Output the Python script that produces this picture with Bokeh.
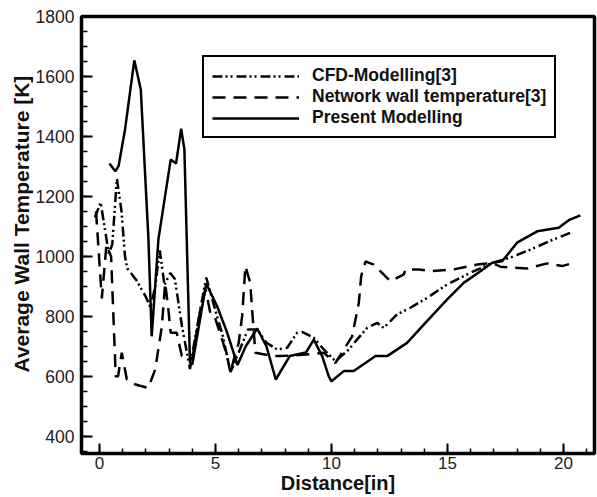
from bokeh.plotting import figure
from bokeh.models import Range1d, FixedTicker, Legend, LegendItem, Title
from bokeh.embed import file_html
from bokeh.resources import INLINE

# ---- data ----
present_x = [0.43, 0.68, 0.82, 1.1, 1.5, 1.78, 2.11, 2.25, 2.54, 2.76,
             3.07, 3.3, 3.52, 3.66, 3.9, 4.0, 4.6, 5.07, 5.5, 5.95,
             6.3, 6.8, 7.2, 7.6, 8.2, 8.9, 9.24, 9.6, 9.88, 10.0,
             10.53, 10.96, 11.9, 12.4, 13.26, 13.98, 14.99, 15.7, 16.42, 16.93,
             17.36, 18.0, 18.87, 19.8, 20.23, 20.73]
present_y = [1310, 1284, 1301, 1423, 1654, 1557, 1057, 734, 1057, 1168,
             1323, 1310, 1426, 1357, 647, 640, 910, 834, 747, 638,
             700, 760, 700, 590, 668, 680, 723, 668, 601, 584,
             618, 618, 668, 668, 712, 773, 857, 912, 951, 979,
             984, 1046, 1084, 1096, 1121, 1137]

cfd_x = [-0.2, 0.05, 0.4, 0.55, 0.75, 0.95, 1.1, 1.2, 1.6, 2.0,
         2.2, 2.4, 2.6, 2.8, 3.05, 3.25, 3.55, 3.9, 4.1, 4.6,
         5.07, 5.3, 5.65, 6.0, 6.4, 6.8, 7.2, 7.66, 8.09, 8.52,
         8.75, 9.24, 9.67, 10.17, 10.75, 11.1, 11.54, 11.97, 12.25, 12.83,
         13.4, 14.12, 14.99, 16.0, 16.93, 17.7, 18.58, 19.58, 20.37]
cfd_y = [1130, 1180, 1010, 1040, 1260, 1150, 1000, 960, 920, 865,
         830, 900, 1020, 905, 945, 925, 770, 625, 720, 930,
         800, 740, 615, 680, 757, 757, 712, 690, 696, 746,
         748, 729, 690, 651, 690, 723, 762, 779, 762, 807,
         829, 862, 907, 946, 979, 996, 1023, 1057, 1081]

net_x = [-0.15, 0.1, 0.3, 0.5, 0.7, 0.8, 0.96, 1.18, 1.5, 1.7,
         2.1, 2.4, 2.69, 2.83, 2.97, 3.07, 3.33, 3.55, 3.84, 4.0,
         4.35, 4.57, 4.78, 4.93, 5.29, 5.5, 5.65, 5.79, 6.0, 6.15,
         6.29, 6.5, 6.58, 6.72, 7.5, 7.8, 8.9, 9.67, 10.17, 10.89,
         11.18, 11.28, 11.47, 11.82, 12.33, 12.54, 13.12, 13.19, 13.76, 14.27,
         15.28, 16.28, 16.93, 17.28, 18.43, 19.3, 19.94, 20.44]
net_y = [1150, 860, 1040, 1000, 600, 601, 679, 590, 575, 570,
         562, 623, 768, 912, 823, 746, 746, 668, 657, 660,
         823, 890, 812, 807, 723, 668, 612, 657, 712, 801,
         968, 912, 823, 679, 668, 668, 673, 679, 645, 734,
         846, 934, 984, 973, 934, 918, 940, 957, 957, 951,
         957, 973, 979, 966, 960, 977, 968, 979]

series_names = ["CFD-Modelling[3]", "Network wall temperature[3]", "Present Modelling"]

x_ticks = [0, 5, 10, 15, 20]
x_minor = list(range(0, 22))
y_ticks = [400, 600, 800, 1000, 1200, 1400, 1600, 1800]
y_minor = list(range(350, 1801, 50))

x_title = "Distance[in]"
y_title = "Average Wall Temperature [K]"

# ---- figure ----
p = figure(width=597, height=497, output_backend="svg", toolbar_location=None,
           x_range=Range1d(-0.776, 21.34), y_range=Range1d(343.3, 1800),
           min_border_left=81, min_border_right=3, min_border_top=16,
           min_border_bottom=44)
p.grid.visible = False
p.outline_line_color = "black"
p.outline_line_width = 3.5

p.xaxis.ticker = FixedTicker(ticks=x_ticks, minor_ticks=x_minor)
p.yaxis.ticker = FixedTicker(ticks=y_ticks, minor_ticks=y_minor)
p.axis.axis_line_width = 1
p.axis.major_tick_out = 0
p.axis.minor_tick_out = 0
p.axis.major_tick_line_width = 2
p.axis.minor_tick_line_width = 1.5
p.axis.major_label_text_color = "#222222"
p.xaxis.major_tick_in = 10
p.xaxis.minor_tick_in = 5
p.yaxis.major_tick_in = 11
p.yaxis.minor_tick_in = 6
p.xaxis.major_label_text_font_size = "17px"
p.yaxis.major_label_text_font_size = "17.5px"
p.xaxis.major_label_standoff = 3
p.yaxis.major_label_standoff = 7

p.xaxis.axis_label = x_title
p.xaxis.axis_label_text_font_style = "bold"
p.xaxis.axis_label_text_font_size = "20px"
p.xaxis.axis_label_text_color = "#111111"
p.xaxis.axis_label_standoff = 0

r_cfd = p.line(cfd_x, cfd_y, line_color="black", line_width=2.5,
               line_dash="10 3 2 3 2 4")
r_net = p.line(net_x, net_y, line_color="black", line_width=2.5,
               line_dash="13 8")
r_pre = p.line(present_x, present_y, line_color="black", line_width=2.5)

legend = Legend(items=[LegendItem(label=series_names[0], renderers=[r_cfd]),
                       LegendItem(label=series_names[1], renderers=[r_net]),
                       LegendItem(label=series_names[2], renderers=[r_pre])],
                location=(121, 315))
legend.border_line_color = "black"
legend.border_line_alpha = 1
legend.border_line_width = 2.5
legend.padding = 8
legend.spacing = 0
legend.margin = 0
legend.label_height = 18
legend.glyph_height = 18
legend.glyph_width = 87
legend.label_standoff = 13
legend.label_text_font_style = "bold"
legend.label_text_font_size = "17.5px"
legend.label_text_color = "#111111"
legend.background_fill_alpha = 1
p.add_layout(legend)

p.add_layout(Title(text=y_title, align="left", offset=81,
                   text_font_style="bold", text_font_size="21px",
                   text_color="#111111", standoff=0), "left")

open("out.html", "w").write(file_html(p, INLINE))
